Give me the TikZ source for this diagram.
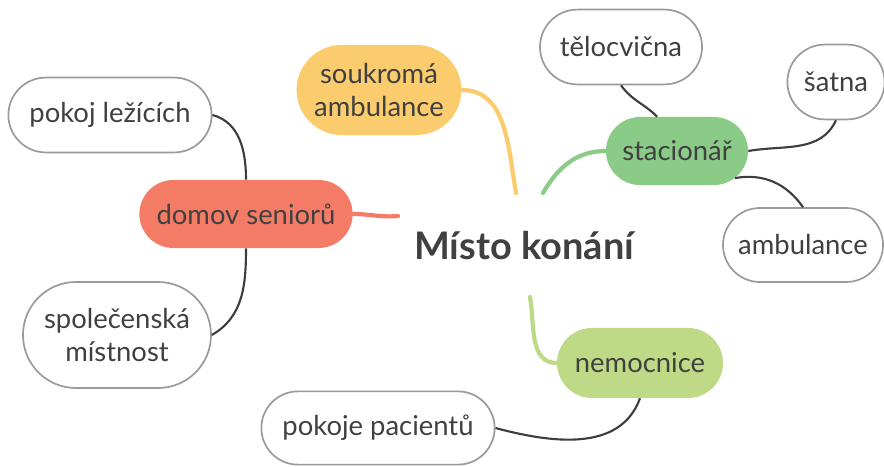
\documentclass[tikz,border=0pt]{standalone}
\usepackage{fontspec}
\setmainfont{Lato}
\usetikzlibrary{shapes.misc}

\definecolor{soukroma}{HTML}{FBCC6E}
\definecolor{stacgreen}{HTML}{8BCB88}
\definecolor{nemgreen}{HTML}{BFDA86}
\definecolor{domovred}{HTML}{F47C66}
\definecolor{textgray}{HTML}{404040}
\definecolor{bordergray}{HTML}{9A9A9A}
\definecolor{linegray}{HTML}{3D3D3D}

\begin{document}
\begin{tikzpicture}[x=0.025cm,y=-0.025cm,text=textgray,
                    font=\fontsize{19.5}{23}\selectfont,
                    branch/.style={line width=3pt,line cap=round},
                    twig/.style={draw=linegray,line width=1.5pt}]
  \tikzstyle{topic}=[rounded rectangle,inner sep=0pt,align=center]
  \tikzstyle{leaf}=[rounded rectangle,inner sep=0pt,align=center,
                    draw=bordergray,line width=1.2pt,fill=white]

  \useasboundingbox (0,0) rectangle (884,467);

  \node[font=\bfseries\fontsize{27}{32}\selectfont] (M) at (524,246) {Místo konání};
  \coordinate (m-w)  at (398,216);
  \coordinate (m-nw) at (516,193);
  \coordinate (m-ne) at (543,193);
  \coordinate (m-s)  at (530,297);

  \node[topic,fill=soukroma,minimum width=4.12cm,minimum height=2.25cm]
        (S)  at (379,90)  {soukromá\\ambulance};
  \node[topic,fill=stacgreen,minimum width=3.55cm,minimum height=1.7cm]
        (St) at (677,151) {stacionář};
  \node[topic,fill=domovred,minimum width=5.33cm,minimum height=1.7cm]
        (D)  at (246,214) {domov seniorů};
  \node[topic,fill=nemgreen,minimum width=4.15cm,minimum height=1.75cm]
        (N)  at (640,363) {nemocnice};

  \node[leaf,minimum width=4.05cm,minimum height=1.87cm] (T)  at (621,47)  {tělocvična};
  \node[leaf,minimum width=2.43cm,minimum height=1.87cm] (Sa) at (836,82)  {šatna};
  \node[leaf,minimum width=4cm,minimum height=1.85cm]    (A)  at (803,245) {ambulance};
  \node[leaf,minimum width=5.08cm,minimum height=1.87cm] (P)  at (110,115) {pokoj ležících};
  \node[leaf,minimum width=4.7cm,minimum height=2.65cm]  (Sp) at (117,335) {společenská\\místnost};
  \node[leaf,minimum width=5.83cm,minimum height=1.83cm] (PP) at (378,428) {pokoje pacientů};

  % main branches
  \draw[branch,draw=domovred]  (D.east) to[out=0,in=185] (m-w);
  \draw[branch,draw=soukroma]  (S.east) to[out=0,in=100] (m-nw);
  \draw[branch,draw=stacgreen] (St.west) to[out=180,in=60] (m-ne);
  \draw[branch,draw=nemgreen]  (N.west) to[out=180,in=-80] (m-s);

  % sub-topics
  \draw[twig] (St.120) to[out=135,in=-55] (T.south);
  \draw[twig] (St.east) to[out=10,in=-115] (Sa.south);
  \draw[twig] (St.-25) to[out=10,in=125] (A.north);
  \draw[twig] (D.north) to[out=90,in=-15] (P.east);
  \draw[twig] (D.south) to[out=-90,in=30] (Sp.east);
  \draw[twig] (N.south) to[out=-110,in=-15] (PP.east);
\end{tikzpicture}
\end{document}
